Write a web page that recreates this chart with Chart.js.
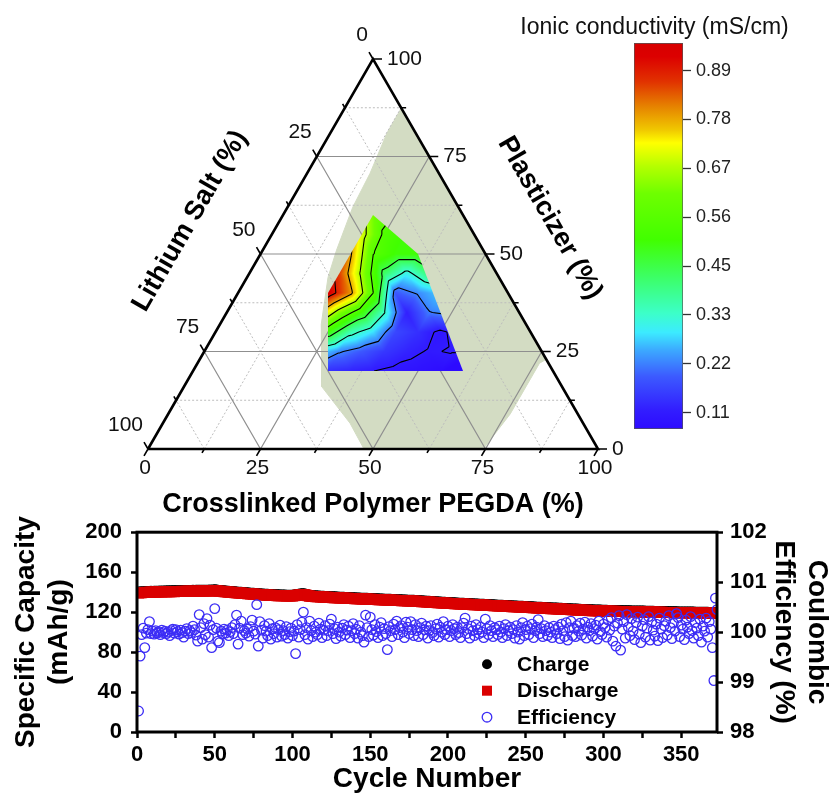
<!DOCTYPE html>
<html>
<head>
<meta charset="utf-8">
<script src="https://cdn.jsdelivr.net/npm/chart.js@4.4.1/dist/chart.umd.min.js"></script>
<style>
  body { margin: 0; background: #fff; }
  #wrap { position: relative; width: 834px; height: 796px; overflow: hidden; background: #fff; }
  canvas { position: absolute; }
  #ternary { left: 0; top: 0; }
  #colorbar { left: 490px; top: 0; }
  #cycling { left: 0; top: 510px; }
</style>
</head>
<body>
<div id="wrap">
  <canvas id="ternary" width="640" height="530"></canvas>
  <canvas id="colorbar" width="344" height="460"></canvas>
  <canvas id="cycling" width="834" height="286"></canvas>
</div>
<script>
const FONT = '"Liberation Sans", Arial, Helvetica, sans-serif';

// ---------- ternary diagram data ----------
const ternaryTicks = [0, 25, 50, 75, 100];
const ternaryMajorGrid = [25, 50, 75];
const ternaryMinorGrid = [12.5, 37.5, 62.5, 87.5];

// composition window shaded in green (PEGDA %, plasticizer %)
const bandPegda = [12.6, 12.6, 14.0, 14.5, 16.4, 18.0, 22.5, 30.6, 41.6, 48.0, 74.5, 76.0, 76.0, 77.0];
const bandPlasticizer = [87.4, 81.0, 70.7, 62.0, 51.0, 44.0, 32.0, 16.0, 6.6, 0, 0, 9.0, 22.0, 23.0];

// outline of the measured compositions
const hullPegda = [30, 60, 35, 20, 20];
const hullPlasticizer = [20, 20, 50, 60, 40];

// ionic conductivity (mS/cm) on a triangular lattice: rows = plasticizer, cols = PEGDA
const gridPegda = [15, 20, 25, 30, 35, 40, 45, 50, 55, 60];
const gridPlasticizer = [20, 25, 30, 35, 40, 45, 50, 55, 60];
const conductivity = [
  [0.20, 0.17, 0.15, 0.14, 0.125, 0.112, 0.10, 0.09, 0.08, 0.04],
  [0.40, 0.35, 0.30, 0.23, 0.19, 0.15, 0.125, 0.107, 0.115, 0.12],
  [0.70, 0.62, 0.50, 0.36, 0.29, 0.17, 0.14, 0.10, 0.14, 0.12],
  [0.85, 0.80, 0.63, 0.50, 0.34, 0.12, 0.22, 0.24, 0.19, 0.17],
  [0.90, 0.94, 0.80, 0.56, 0.19, 0.23, 0.28, 0.30, 0.26, 0.22],
  [0.92, 0.86, 0.65, 0.42, 0.31, 0.41, 0.38, 0.34, 0.30, 0.26],
  [0.90, 0.79, 0.56, 0.50, 0.50, 0.47, 0.44, 0.40, 0.36, 0.32],
  [0.85, 0.70, 0.54, 0.50, 0.48, 0.46, 0.44, 0.40, 0.36, 0.32],
  [0.75, 0.62, 0.55, 0.50, 0.48, 0.46, 0.44, 0.40, 0.36, 0.32]
];

// colour scale
const cbMin = 0.074, cbMax = 0.954;
const cbTicks = [0.1114, 0.2228, 0.3342, 0.4456, 0.557, 0.6684, 0.7798, 0.8912];
const contourLevels = cbTicks;

// ---------- cycling data ----------
const discharge = [
  139.2, 139.4, 139.5, 139.6, 139.6, 139.8, 139.7, 139.9, 140.0, 139.9,
  140.1, 140.0, 140.2, 140.1, 140.3, 140.2, 140.3, 140.4, 140.3, 140.5,
  140.4, 140.5, 140.6, 140.5, 140.6, 140.7, 140.6, 140.7, 140.8, 140.7,
  140.8, 140.8, 140.9, 140.8, 140.9, 141.0, 140.9, 141.0, 141.0, 141.1,
  141.0, 141.1, 141.1, 141.2, 141.1, 141.2, 141.3, 141.2, 141.4, 141.6,
  141.3, 141.1, 140.9, 140.8, 140.6, 140.5, 140.3, 140.2, 140.0, 139.9,
  139.8, 139.6, 139.5, 139.4, 139.2, 139.1, 139.0, 138.9, 138.7, 138.6,
  138.5, 138.4, 138.2, 138.1, 138.0, 137.9, 137.8, 137.6, 137.5, 137.4,
  137.3, 137.2, 137.1, 137.0, 136.9, 136.8, 136.8, 136.7, 136.6, 136.5,
  136.5, 136.4, 136.4, 136.3, 136.3, 136.2, 136.2, 136.2, 136.1, 136.1,
  136.3, 136.6, 136.9, 137.2, 137.4, 137.5, 137.6, 137.3, 136.9, 136.4,
  136.0, 135.8, 135.7, 135.6, 135.5, 135.4, 135.3, 135.2, 135.1, 135.0,
  134.9, 134.9, 134.8, 134.7, 134.6, 134.5, 134.5, 134.4, 134.3, 134.2,
  134.2, 134.1, 134.0, 133.9, 133.9, 133.8, 133.7, 133.6, 133.6, 133.5,
  133.4, 133.4, 133.3, 133.2, 133.2, 133.1, 133.0, 133.0, 132.9, 132.8,
  132.8, 132.7, 132.6, 132.6, 132.5, 132.4, 132.4, 132.3, 132.2, 132.2,
  132.1, 132.0, 132.0, 131.9, 131.8, 131.8, 131.7, 131.6, 131.6, 131.5,
  131.4, 131.4, 131.3, 131.2, 131.2, 131.1, 131.0, 131.0, 130.9, 130.8,
  130.7, 130.6, 130.5, 130.4, 130.3, 130.2, 130.1, 130.0, 129.9, 129.8,
  129.7, 129.6, 129.5, 129.4, 129.3, 129.2, 129.1, 129.0, 128.9, 128.8,
  128.7, 128.6, 128.6, 128.5, 128.4, 128.3, 128.2, 128.2, 128.1, 128.0,
  127.9, 127.8, 127.8, 127.7, 127.6, 127.5, 127.4, 127.4, 127.3, 127.2,
  127.1, 127.0, 127.0, 126.9, 126.8, 126.7, 126.6, 126.6, 126.5, 126.4,
  126.3, 126.2, 126.2, 126.1, 126.0, 125.9, 125.8, 125.8, 125.7, 125.6,
  125.5, 125.4, 125.4, 125.3, 125.2, 125.1, 125.0, 125.0, 124.9, 124.8,
  124.7, 124.6, 124.6, 124.5, 124.4, 124.3, 124.2, 124.2, 124.1, 124.0,
  123.9, 123.8, 123.8, 123.7, 123.6, 123.5, 123.4, 123.4, 123.3, 123.2,
  123.1, 123.0, 123.0, 122.9, 122.8, 122.7, 122.6, 122.6, 122.5, 122.4,
  122.3, 122.2, 122.2, 122.1, 122.0, 121.9, 121.9, 121.8, 121.8, 121.7,
  121.6, 121.5, 121.5, 121.4, 121.3, 121.3, 121.2, 121.2, 121.1, 121.1,
  121.0, 121.0, 120.9, 120.9, 120.9, 120.8, 120.8, 120.8, 120.7, 120.7,
  120.7, 120.6, 120.6, 120.6, 120.5, 120.5, 120.5, 120.4, 120.4, 120.4,
  120.3, 120.3, 120.3, 120.2, 120.2, 120.2, 120.1, 120.1, 120.1, 120.0,
  120.0, 120.0, 119.9, 119.9, 119.9, 119.8, 119.8, 119.8, 119.7, 119.7,
  119.7, 119.6, 119.6, 119.6, 119.5, 119.5, 119.5, 119.4, 119.4, 119.4,
  119.3, 119.3, 119.3, 119.3, 119.2, 119.2, 119.2, 119.2, 119.1, 119.1,
  119.1, 119.1, 119.0, 119.0, 119.0, 119.0, 119.0, 118.9, 118.9, 118.9,
  118.9, 118.9, 118.8
];

const charge = [
  140.8, 140.9, 141.0, 141.1, 141.1, 141.3, 141.2, 141.4, 141.5, 141.4,
  141.6, 141.5, 141.7, 141.6, 141.8, 141.7, 141.8, 141.9, 141.8, 142.0,
  141.9, 142.0, 142.1, 142.0, 142.1, 142.2, 142.1, 142.2, 142.3, 142.2,
  142.3, 142.3, 142.4, 142.3, 142.4, 142.5, 142.4, 142.5, 142.5, 142.6,
  142.5, 142.6, 142.6, 142.7, 142.6, 142.7, 142.8, 142.7, 142.9, 143.1,
  142.8, 142.6, 142.4, 142.3, 142.1, 142.0, 141.8, 141.7, 141.5, 141.4,
  141.3, 141.1, 141.0, 140.9, 140.7, 140.6, 140.5, 140.4, 140.2, 140.1,
  140.0, 139.9, 139.7, 139.6, 139.5, 139.4, 139.3, 139.1, 139.0, 138.9,
  138.8, 138.7, 138.6, 138.5, 138.4, 138.3, 138.3, 138.2, 138.1, 138.0,
  138.0, 137.9, 137.9, 137.8, 137.8, 137.7, 137.7, 137.7, 137.6, 137.6,
  137.8, 138.1, 138.4, 138.7, 138.9, 139.0, 139.1, 138.8, 138.4, 137.9,
  137.5, 137.3, 137.2, 137.1, 137.0, 136.9, 136.8, 136.7, 136.6, 136.5,
  136.4, 136.4, 136.3, 136.2, 136.1, 136.0, 136.0, 135.9, 135.8, 135.7,
  135.7, 135.6, 135.5, 135.4, 135.4, 135.3, 135.2, 135.1, 135.1, 135.0,
  134.9, 134.9, 134.8, 134.7, 134.7, 134.6, 134.5, 134.5, 134.4, 134.3,
  134.3, 134.2, 134.1, 134.1, 134.0, 133.9, 133.9, 133.8, 133.7, 133.7,
  133.6, 133.5, 133.5, 133.4, 133.3, 133.3, 133.2, 133.1, 133.1, 133.0,
  132.9, 132.9, 132.8, 132.7, 132.7, 132.6, 132.5, 132.5, 132.4, 132.3,
  132.2, 132.1, 132.0, 131.9, 131.8, 131.7, 131.6, 131.5, 131.4, 131.3,
  131.2, 131.1, 131.0, 130.9, 130.8, 130.7, 130.6, 130.5, 130.4, 130.3,
  130.2, 130.1, 130.1, 130.0, 129.9, 129.8, 129.7, 129.7, 129.6, 129.5,
  129.4, 129.3, 129.3, 129.2, 129.1, 129.0, 128.9, 128.9, 128.8, 128.7,
  128.6, 128.5, 128.5, 128.4, 128.3, 128.2, 128.1, 128.1, 128.0, 127.9,
  127.8, 127.7, 127.7, 127.6, 127.5, 127.4, 127.3, 127.3, 127.2, 127.1,
  127.0, 126.9, 126.9, 126.8, 126.7, 126.6, 126.5, 126.5, 126.4, 126.3,
  126.2, 126.1, 126.1, 126.0, 125.9, 125.8, 125.7, 125.7, 125.6, 125.5,
  125.4, 125.3, 125.3, 125.2, 125.1, 125.0, 124.9, 124.9, 124.8, 124.7,
  124.6, 124.5, 124.5, 124.4, 124.3, 124.2, 124.1, 124.1, 124.0, 123.9,
  123.8, 123.7, 123.7, 123.6, 123.5, 123.4, 123.4, 123.3, 123.3, 123.2,
  123.1, 123.0, 123.0, 122.9, 122.8, 122.8, 122.7, 122.7, 122.6, 122.6,
  122.5, 122.5, 122.4, 122.4, 122.4, 122.3, 122.3, 122.3, 122.2, 122.2,
  122.2, 122.1, 122.1, 122.1, 122.0, 122.0, 122.0, 121.9, 121.9, 121.9,
  121.8, 121.8, 121.8, 121.7, 121.7, 121.7, 121.6, 121.6, 121.6, 121.5,
  121.5, 121.5, 121.4, 121.4, 121.4, 121.3, 121.3, 121.3, 121.2, 121.2,
  121.2, 121.1, 121.1, 121.1, 121.0, 121.0, 121.0, 120.9, 120.9, 120.9,
  120.8, 120.8, 120.8, 120.8, 120.7, 120.7, 120.7, 120.7, 120.6, 120.6,
  120.6, 120.6, 120.5, 120.5, 120.5, 120.5, 120.5, 120.4, 120.4, 120.4,
  120.4, 120.4, 120.3
];

const efficiency = [
  98.42, 99.52, 99.95, 100.08, 99.69, 99.98, 100.05, 100.21, 99.97, 100.02,
  99.96, 100.03, 99.98, 100.01, 99.95, 100.04, 99.99, 100.02, 99.97, 100.00,
  99.93, 100.03, 100.06, 99.98, 100.05, 100.01, 99.96, 100.04, 99.99, 99.90,
  100.02, 100.07, 99.97, 100.03, 99.99, 100.12, 100.05, 99.94, 99.82, 100.35,
  100.09, 99.86, 100.17, 99.95, 100.27, 99.90, 100.14, 99.69, 100.05, 100.47,
  100.08, 99.82, 99.79, 100.02, 99.96, 100.06, 99.98, 100.04, 99.93, 100.01,
  100.09, 99.97, 100.15, 100.34, 99.76, 100.08, 100.22, 99.95, 100.03, 99.98,
  100.06, 99.92, 100.11, 100.24, 100.02, 99.96, 100.55, 99.72, 100.21, 100.04,
  99.88, 100.13, 100.02, 99.93, 100.17, 99.86, 100.07, 99.97, 100.09, 99.90,
  100.05, 100.14, 99.92, 100.03, 99.95, 100.11, 99.88, 100.01, 100.08, 99.93,
  100.02, 99.57, 100.15, 99.90, 100.05, 100.20, 100.40, 99.95, 100.09, 99.86,
  100.22, 100.03, 99.91, 100.12, 100.00, 99.95, 100.18, 100.06, 99.89, 100.04,
  100.13, 99.93, 100.03, 100.16, 100.26, 99.97, 100.07, 99.87, 100.10, 100.00,
  99.92, 100.08, 100.15, 99.95, 100.04, 100.12, 99.89, 100.03, 100.17, 99.97,
  100.06, 99.88, 100.13, 100.00, 99.93, 99.80, 100.34, 100.09, 99.91, 100.30,
  100.05, 99.94, 100.15, 100.01, 99.89, 100.10, 100.19, 99.93, 100.07, 99.97,
  99.65, 100.11, 100.03, 99.91, 100.16, 100.05, 100.22, 99.95, 100.09, 100.13,
  100.00, 99.89, 100.20, 100.10, 99.97, 100.21, 100.05, 99.93, 100.15, 100.03,
  99.91, 100.09, 100.18, 99.95, 100.05, 100.12, 99.88, 100.03, 100.13, 99.99,
  99.93, 100.07, 100.16, 99.90, 100.10, 100.00, 100.21, 99.95, 100.05, 100.12,
  99.91, 100.03, 100.15, 100.07, 99.95, 100.10, 99.99, 99.89, 100.09, 100.18,
  100.28, 99.97, 100.07, 99.88, 100.12, 100.03, 99.93, 100.15, 100.05, 99.97,
  100.10, 100.00, 99.89, 100.26, 100.07, 99.95, 100.13, 100.03, 99.91, 100.09,
  100.05, 99.95, 100.12, 100.00, 99.89, 100.07, 100.15, 99.93, 100.03, 100.10,
  99.97, 100.05, 99.88, 100.13, 100.00, 99.86, 100.09, 100.19, 99.93, 100.05,
  100.12, 99.95, 100.07, 100.16, 99.89, 100.03, 100.10, 100.25, 99.97, 100.07,
  99.91, 100.13, 100.03, 99.93, 100.09, 100.00, 99.89, 100.12, 100.05, 99.97,
  100.10, 99.87, 100.16, 100.03, 99.91, 100.19, 99.84, 100.09, 100.22, 99.93,
  100.08, 99.91, 100.13, 100.02, 100.18, 99.94, 100.06, 100.20, 99.88, 100.10,
  100.03, 100.17, 99.92, 100.07, 100.14, 99.86, 100.22, 100.01, 99.95, 100.16,
  100.09, 99.90, 100.24, 100.04, 100.29, 99.82, 100.12, 99.72, 100.18, 100.33,
  99.64, 100.06, 100.21, 99.88, 100.35, 100.10, 99.93, 100.27, 100.02, 99.85,
  100.19, 100.30, 99.96, 99.79, 100.12, 100.25, 99.90, 100.08, 100.31, 99.84,
  100.20, 100.04, 99.92, 100.16, 99.83, 100.28, 100.06, 99.89, 100.13, 100.22,
  99.94, 100.33, 100.09, 99.87, 100.18, 100.02, 100.37, 100.29, 99.91, 100.14,
  100.06, 99.85, 100.24, 100.10, 99.97, 100.31, 100.03, 99.88, 100.19, 100.08,
  99.93, 100.26, 99.80, 100.12, 100.02, 100.28, 99.90, 100.21, 100.06, 99.69,
  99.03, 100.68, 100.45
];

const cycles = discharge.map((_, i) => i + 1);
const xTickValues = [0, 25, 50, 75, 100, 125, 150, 175, 200, 225, 250, 275, 300, 325, 350];
const capTickValues = [0, 20, 40, 60, 80, 100, 120, 140, 160, 180, 200];
const effTickValues = [98, 98.5, 99, 99.5, 100, 100.5, 101, 101.5, 102];

// ---------- colour map ----------
const cmapStops = [
  [0.000, [45, 10, 255]],
  [0.050, [50, 30, 255]],
  [0.136, [60, 90, 255]],
  [0.205, [60, 170, 255]],
  [0.250, [60, 235, 255]],
  [0.300, [60, 255, 200]],
  [0.395, [60, 255, 100]],
  [0.490, [65, 255, 0]],
  [0.610, [110, 255, 0]],
  [0.680, [180, 255, 0]],
  [0.741, [255, 255, 0]],
  [0.775, [240, 200, 0]],
  [0.836, [230, 130, 0]],
  [0.900, [225, 50, 0]],
  [0.965, [220, 0, 0]],
  [1.000, [215, 0, 0]]
];

function colorAt(v) {
  let t = (v - cbMin) / (cbMax - cbMin);
  t = Math.max(0, Math.min(1, t));
  for (let k = 1; k < cmapStops.length; k++) {
    const [t1, c1] = cmapStops[k];
    if (t <= t1) {
      const [t0, c0] = cmapStops[k - 1];
      const f = (t - t0) / (t1 - t0);
      return [0, 1, 2].map(n => Math.round(c0[n] + f * (c1[n] - c0[n])));
    }
  }
  return cmapStops[cmapStops.length - 1][1];
}

// linear interpolation on the triangular lattice (cells split along constant salt)
function fieldAt(g, p) {
  const dg = gridPegda[1] - gridPegda[0], dp = gridPlasticizer[1] - gridPlasticizer[0];
  let i = Math.floor((g - gridPegda[0]) / dg);
  let j = Math.floor((p - gridPlasticizer[0]) / dp);
  i = Math.max(0, Math.min(gridPegda.length - 2, i));
  j = Math.max(0, Math.min(gridPlasticizer.length - 2, j));
  const u = (g - gridPegda[i]) / dg, v = (p - gridPlasticizer[j]) / dp;
  const a = conductivity[j][i], b = conductivity[j][i + 1];
  const c = conductivity[j + 1][i], d = conductivity[j + 1][i + 1];
  if (u + v <= 1) return a + u * (b - a) + v * (c - a);
  return d + (1 - u) * (c - d) + (1 - v) * (b - d);
}

// ternary helpers: x = PEGDA + plasticizer / 2, y = plasticizer
const tern = (g, p) => ({ x: g + p / 2, y: p });
function toPixel(chart, g, p) {
  const q = tern(g, p);
  return [chart.scales.x.getPixelForValue(q.x), chart.scales.y.getPixelForValue(q.y)];
}

function gridPoints(values) {
  const pts = [];
  values.forEach(v => {
    pts.push(tern(0, v), tern(100 - v, v), { x: null, y: null });        // plasticizer
    pts.push(tern(v, 0), tern(v, 100 - v), { x: null, y: null });        // PEGDA
    pts.push(tern(100 - v, 0), tern(0, 100 - v), { x: null, y: null });  // lithium salt
  });
  return pts;
}

function drawContours(chart) {
  const { ctx } = chart;
  const sx = chart.scales.x, sy = chart.scales.y;
  const hull = hullPegda.map((g, i) => toPixel(chart, g, hullPlasticizer[i]));
  const hx = hull.map(p => p[0]), hy = hull.map(p => p[1]);
  const x0 = Math.floor(Math.min(...hx)) - 1, x1 = Math.ceil(Math.max(...hx)) + 1;
  const y0 = Math.floor(Math.min(...hy)) - 1, y1 = Math.ceil(Math.max(...hy)) + 1;
  const w = x1 - x0, h = y1 - y0;

  const off = document.createElement('canvas');
  off.width = w; off.height = h;
  const octx = off.getContext('2d');
  const img = octx.createImageData(w, h);
  for (let j = 0; j < h; j++) {
    const P = sy.getValueForPixel(y0 + j + 0.5);
    for (let i = 0; i < w; i++) {
      const X = sx.getValueForPixel(x0 + i + 0.5);
      const c = colorAt(fieldAt(X - P / 2, P));
      const k = (j * w + i) * 4;
      img.data[k] = c[0]; img.data[k + 1] = c[1]; img.data[k + 2] = c[2]; img.data[k + 3] = 255;
    }
  }
  octx.putImageData(img, 0, 0);

  ctx.save();
  ctx.beginPath();
  hull.forEach((p, i) => (i ? ctx.lineTo(p[0], p[1]) : ctx.moveTo(p[0], p[1])));
  ctx.closePath();
  ctx.clip();
  ctx.drawImage(off, x0, y0);

  // iso-lines, straight inside each lattice triangle
  ctx.beginPath();
  const segment = (pts, vals, level) => {
    const cross = [];
    for (let k = 0; k < 3; k++) {
      const k2 = (k + 1) % 3;
      const v1 = vals[k] - level, v2 = vals[k2] - level;
      if ((v1 < 0) !== (v2 < 0)) {
        const t = v1 / (v1 - v2);
        cross.push([pts[k][0] + t * (pts[k2][0] - pts[k][0]), pts[k][1] + t * (pts[k2][1] - pts[k][1])]);
      }
    }
    if (cross.length === 2) {
      const a = toPixel(chart, cross[0][0], cross[0][1]);
      const b = toPixel(chart, cross[1][0], cross[1][1]);
      ctx.moveTo(a[0], a[1]);
      ctx.lineTo(b[0], b[1]);
    }
  };
  for (let j = 0; j < gridPlasticizer.length - 1; j++) {
    for (let i = 0; i < gridPegda.length - 1; i++) {
      const A = [gridPegda[i], gridPlasticizer[j]], B = [gridPegda[i + 1], gridPlasticizer[j]];
      const C = [gridPegda[i], gridPlasticizer[j + 1]], D = [gridPegda[i + 1], gridPlasticizer[j + 1]];
      const a = conductivity[j][i], b = conductivity[j][i + 1];
      const c = conductivity[j + 1][i], d = conductivity[j + 1][i + 1];
      contourLevels.forEach(l => {
        segment([A, B, C], [a, b, c], l);
        segment([B, D, C], [b, d, c], l);
      });
    }
  }
  ctx.strokeStyle = '#000';
  ctx.lineWidth = 1.1;
  ctx.stroke();
  ctx.restore();
}

const ternaryDecor = {
  id: 'ternaryDecor',
  afterDatasetDraw(chart, args) {
    if (args.index === 1) drawContours(chart);
  },
  afterDatasetsDraw(chart) {
    const { ctx } = chart;
    ctx.save();
    ctx.strokeStyle = '#000';
    ctx.lineWidth = 1.6;
    ctx.beginPath();
    const tick = (pt, dx, dy, len) => {
      ctx.moveTo(pt[0], pt[1]);
      ctx.lineTo(pt[0] + dx * len, pt[1] + dy * len);
    };
    ternaryTicks.forEach(v => {
      tick(toPixel(chart, v, 0), -0.5, 0.866, 8);         // PEGDA
      tick(toPixel(chart, 0, 100 - v), -0.5, -0.866, 8);  // lithium salt
      tick(toPixel(chart, 100 - v, v), 1, 0, 9);          // plasticizer
    });
    ternaryMinorGrid.forEach(v => {
      tick(toPixel(chart, v, 0), -0.5, 0.866, 4.5);
      tick(toPixel(chart, 0, 100 - v), -0.5, -0.866, 4.5);
      tick(toPixel(chart, 100 - v, v), 1, 0, 5);
    });
    ctx.stroke();
    ctx.restore();
  },
  afterDraw(chart) {
    const { ctx } = chart;
    ctx.save();
    ctx.fillStyle = '#111';
    ctx.font = '21px ' + FONT;
    ctx.textBaseline = 'middle';
    ternaryTicks.forEach(v => {
      let p = toPixel(chart, v, 0);
      ctx.textAlign = 'center';
      ctx.fillText(String(v), p[0] - 3, p[1] + 19);
      p = toPixel(chart, 0, 100 - v);
      ctx.textAlign = 'right';
      ctx.fillText(String(v), p[0] - 5, p[1] - 24);
      p = toPixel(chart, 100 - v, v);
      ctx.textAlign = 'left';
      ctx.fillText(String(v), p[0] + 14, p[1]);
    });

    ctx.fillStyle = '#000';
    ctx.font = 'bold 27px ' + FONT;
    ctx.textAlign = 'center';
    const a = chart.chartArea;
    ctx.fillText('Crosslinked Polymer PEGDA (%)', (a.left + a.right) / 2, a.bottom + 56);

    ctx.save();
    ctx.translate(190, 221);
    ctx.rotate(-Math.PI / 3);
    ctx.fillText('Lithium Salt (%)', 0, 0);
    ctx.restore();

    ctx.save();
    ctx.translate(550, 218);
    ctx.rotate(Math.PI / 3);
    ctx.fillText('Plasticizer (%)', 0, 0);
    ctx.restore();
    ctx.restore();
  }
};

new Chart(document.getElementById('ternary'), {
  type: 'scatter',
  data: {
    datasets: [
      {
        label: 'frame',
        data: [tern(0, 0), tern(100, 0), tern(0, 100), tern(0, 0)],
        showLine: true, borderColor: '#000', borderWidth: 2.6, pointRadius: 0,
        borderJoinStyle: 'miter', clip: false
      },
      {
        label: 'grid',
        data: gridPoints(ternaryMajorGrid),
        showLine: true, borderColor: '#8f8f8f', borderWidth: 1.2, pointRadius: 0, spanGaps: false
      },
      {
        label: 'grid minor',
        data: gridPoints(ternaryMinorGrid),
        showLine: true, borderColor: '#bdbdbd', borderWidth: 1, borderDash: [2, 2], pointRadius: 0, spanGaps: false
      },
      {
        label: 'window',
        data: bandPegda.map((g, i) => tern(g, bandPlasticizer[i])).concat([tern(bandPegda[0], bandPlasticizer[0])]),
        showLine: true, fill: 'shape', backgroundColor: '#d3dcc3', borderColor: '#d3dcc3',
        borderWidth: 1, pointRadius: 0
      }
    ]
  },
  options: {
    responsive: false,
    animation: false,
    events: [],
    layout: { padding: { left: 148, right: 42, top: 59, bottom: 81 } },
    plugins: { legend: { display: false }, tooltip: { enabled: false } },
    scales: {
      x: { type: 'linear', min: 0, max: 100, display: false },
      y: { type: 'linear', min: 0, max: 100, display: false }
    }
  },
  plugins: [ternaryDecor]
});

// ---------- colour bar ----------
const cbTitle = {
  id: 'cbTitle',
  afterDraw(chart) {
    const { ctx, chartArea: a } = chart;
    ctx.save();
    ctx.font = '23px ' + FONT;
    ctx.fillStyle = '#111';
    ctx.textAlign = 'center';
    ctx.textBaseline = 'middle';
    ctx.fillText('Ionic conductivity (mS/cm)', (a.left + a.right) / 2 - 4, 28);
    ctx.restore();
  }
};

new Chart(document.getElementById('colorbar'), {
  type: 'bar',
  data: {
    labels: [''],
    datasets: [{
      data: [[cbMin, cbMax]],
      backgroundColor: (context) => {
        const chart = context.chart;
        if (!chart.chartArea) return '#888';
        const s = chart.scales.y;
        const grad = chart.ctx.createLinearGradient(0, s.getPixelForValue(cbMin), 0, s.getPixelForValue(cbMax));
        cmapStops.forEach(([t, c]) => grad.addColorStop(t, `rgb(${c[0]},${c[1]},${c[2]})`));
        return grad;
      },
      borderColor: '#555',
      borderWidth: 1,
      borderSkipped: false,
      barPercentage: 1,
      categoryPercentage: 1
    }]
  },
  options: {
    responsive: false,
    animation: false,
    events: [],
    layout: { padding: { left: 144, top: 43, bottom: 31, right: 0 } },
    plugins: { legend: { display: false }, tooltip: { enabled: false } },
    scales: {
      x: { display: false },
      y: {
        position: 'right', min: cbMin, max: cbMax,
        afterBuildTicks: s => { s.ticks = cbTicks.map(v => ({ value: v })); },
        afterFit: s => { s.width = 151; },
        grid: { drawOnChartArea: false, tickLength: 8, tickColor: '#333', tickWidth: 1.3 },
        border: { display: false },
        ticks: { color: '#222', padding: 5, font: { family: FONT, size: 18 }, callback: v => v.toFixed(2) }
      }
    }
  },
  plugins: [cbTitle]
});

// ---------- cycling performance ----------
const frame = {
  id: 'frame',
  afterDatasetsDraw(chart) {
    const { ctx, chartArea: a } = chart;
    ctx.save();
    ctx.strokeStyle = '#000';
    ctx.lineWidth = 3;
    ctx.strokeRect(a.left, a.top, a.right - a.left, a.bottom - a.top);
    ctx.restore();
  }
};

const insetLegend = {
  id: 'insetLegend',
  afterDraw(chart) {
    const { ctx, chartArea: a } = chart;
    const mx = a.left + 350, tx = a.left + 380;
    const rows = [a.top + 132, a.top + 158.5, a.top + 185];
    ctx.save();
    // Charge
    ctx.fillStyle = '#000';
    ctx.beginPath(); ctx.arc(mx, rows[0], 5, 0, Math.PI * 2); ctx.fill();
    // Discharge
    ctx.fillStyle = '#da0000';
    ctx.fillRect(mx - 5, rows[1] - 5, 10, 10);
    // Efficiency
    ctx.strokeStyle = '#3c2df5';
    ctx.lineWidth = 1.3;
    ctx.beginPath(); ctx.arc(mx, rows[2], 4.8, 0, Math.PI * 2); ctx.stroke();

    ctx.fillStyle = '#000';
    ctx.font = 'bold 21px ' + FONT;
    ctx.textAlign = 'left';
    ctx.textBaseline = 'middle';
    ['Charge', 'Discharge', 'Efficiency'].forEach((t, i) => ctx.fillText(t, tx, rows[i] + 1));
    ctx.restore();
  }
};

const pts = ys => ys.map((y, i) => ({ x: cycles[i], y }));
const boldTicks = { family: FONT, size: 22, weight: 'bold' };
const boldTitle = { family: FONT, size: 28, weight: 'bold', lineHeight: 1.2 };
const tickGrid = { drawOnChartArea: false, tickLength: 6, tickWidth: 2.5, tickColor: '#000' };

new Chart(document.getElementById('cycling'), {
  type: 'scatter',
  data: {
    datasets: [
      {
        label: 'Efficiency', data: pts(efficiency), yAxisID: 'y2',
        pointStyle: 'circle', pointRadius: 4.8, pointBorderWidth: 1.3,
        borderColor: '#3c2df5', backgroundColor: 'rgba(0,0,0,0)'
      },
      {
        label: 'Discharge', data: pts(discharge), yAxisID: 'y',
        pointStyle: 'rect', pointRadius: 7.8, pointBorderWidth: 0,
        borderColor: '#da0000', backgroundColor: '#da0000'
      },
      {
        label: 'Charge', data: pts(charge), yAxisID: 'y',
        pointStyle: 'circle', pointRadius: 4.8, pointBorderWidth: 0,
        borderColor: '#000', backgroundColor: '#000'
      }
    ]
  },
  options: {
    responsive: false,
    animation: false,
    events: [],
    layout: { padding: { top: 20, left: 0, right: 0, bottom: 0 } },
    plugins: { legend: { display: false }, tooltip: { enabled: false } },
    scales: {
      x: {
        type: 'linear', position: 'bottom', min: 0, max: 373,
        afterBuildTicks: s => { s.ticks = xTickValues.map(v => ({ value: v })); },
        afterFit: s => { s.height = 64; },
        grid: tickGrid, border: { display: false },
        ticks: { autoSkip: false, maxRotation: 0, padding: 4, color: '#000', font: boldTicks,
                 callback: v => (v % 50 === 0 ? v : '') },
        title: { display: true, text: 'Cycle Number', color: '#000', font: boldTitle, padding: { top: 0, bottom: 0 } }
      },
      y: {
        type: 'linear', position: 'left', min: 0, max: 200,
        afterBuildTicks: s => { s.ticks = capTickValues.map(v => ({ value: v })); },
        afterFit: s => { s.width = 137; },
        grid: tickGrid, border: { display: false },
        ticks: { padding: 9, color: '#000', font: boldTicks, callback: v => (v % 40 === 0 ? v : '') },
        title: { display: true, text: ['Specific Capacity', '(mAh/g)'], color: '#000', font: boldTitle, padding: { top: 9, bottom: 0 } }
      },
      y2: {
        type: 'linear', position: 'right', min: 98, max: 102,
        afterBuildTicks: s => { s.ticks = effTickValues.map(v => ({ value: v })); },
        afterFit: s => { s.width = 117; },
        grid: tickGrid, border: { display: false },
        ticks: { padding: 7, color: '#000', font: boldTicks, callback: v => (Number.isInteger(v) ? v : '') },
        title: { display: true, text: ['Coulombic', 'Efficiency (%)'], color: '#000', font: boldTitle, padding: { top: 0, bottom: 0 } }
      }
    }
  },
  plugins: [frame, insetLegend]
});
</script>
</body>
</html>
